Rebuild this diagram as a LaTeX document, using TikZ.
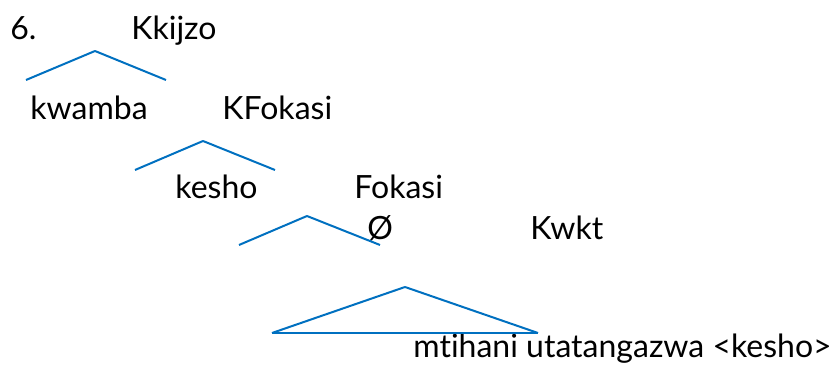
\documentclass[tikz,border=0pt]{standalone}
\usepackage{fontspec}
\setmainfont{Lato}[Ligatures=NoCommon]
\usepackage{tikz}
\definecolor{branchblue}{RGB}{0,112,192}

\begin{document}
\begin{tikzpicture}[x=0.5pt,y=-0.5pt,
			word/.style={inner sep=0pt,anchor=base west,
				font=\fontsize{16}{19}\selectfont},
			branch/.style={draw=branchblue,line width=1pt}]
			\useasboundingbox (0,0) rectangle (832,367);
			
			\node[word] (num) at (10,40) {6.};
			\node[word] (kkijzo) at (131,40) {Kkijzo};
			\node[word] (kwamba) at (30,120) {kwamba};
			\node[word] (kfokasi) at (222,120) {KFokasi};
			\node[word] (kesho) at (175,199) {kesho};
			\node[word] (fokasi) at (354,199) {Fokasi};
			\node[word] (null) at (367,240) {Ø};
			\node[word] (kwkt) at (530,240) {Kwkt};
			\node[word] (clause) at (413,358) {mtihani utatangazwa <kesho>};
			
			\coordinate (top1) at (95,51);
			\coordinate (left1) at (26,80);
			\coordinate (right1) at (166,80);
			\coordinate (top2) at (203,141);
			\coordinate (left2) at (135,170);
			\coordinate (right2) at (275,170);
			\coordinate (top3) at (307,216);
			\coordinate (left3) at (239,245);
			\coordinate (right3) at (380,245);
			\coordinate (top4) at (405,287);
			\coordinate (left4) at (272,333);
			\coordinate (right4) at (538,333);
			
			\path[branch]
			(left1) edge (top1)
			(top1) edge (right1)
			(left2) edge (top2)
			(top2) edge (right2)
			(left3) edge (top3)
			(top3) edge (right3)
			(left4) edge (top4)
			(top4) edge (right4)
			(left4) edge (right4);
			
		\end{tikzpicture}
\end{document}
